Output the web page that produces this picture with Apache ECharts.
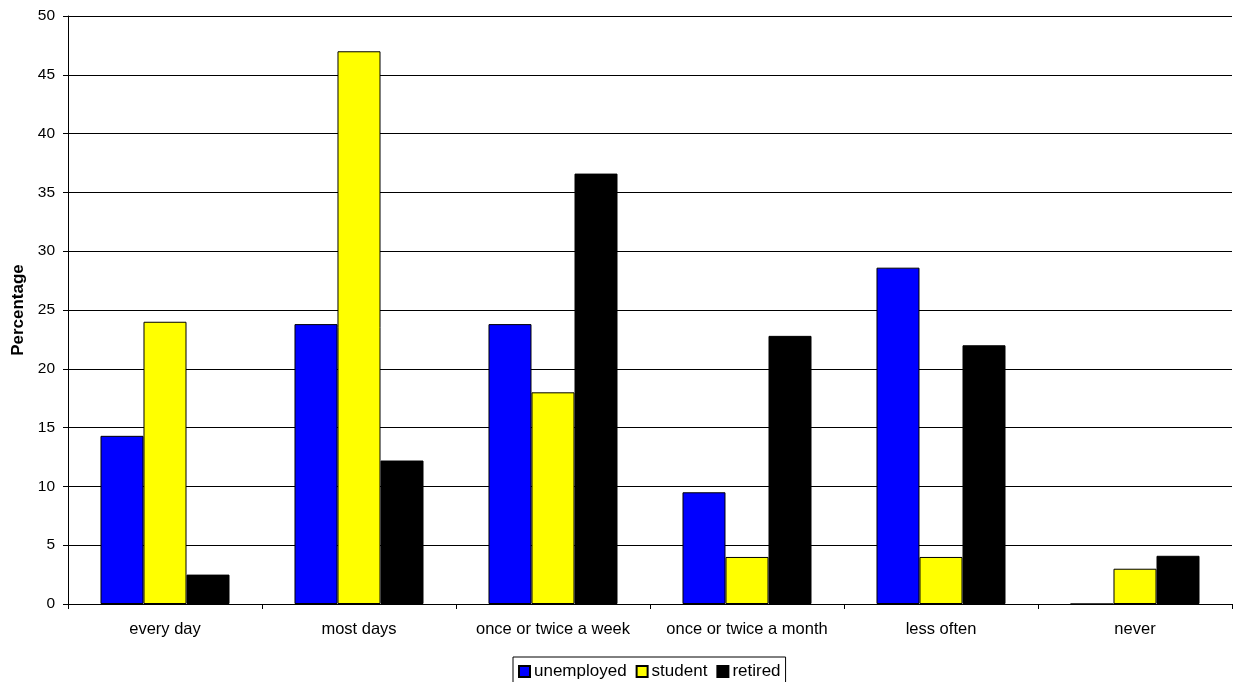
<!DOCTYPE html>
<html>
<head>
<meta charset="utf-8">
<script src="https://cdn.jsdelivr.net/npm/echarts@6/dist/echarts.min.js"></script>
<style>html,body{margin:0;padding:0;background:#fff;}#c{width:1234px;height:682px;}</style>
</head>
<body>
<div id="c"></div>
<script>
const categories = ["every day", "most days", "once or twice a week", "once or twice a month", "less often", "never"];
const unemployed = [14.3, 23.8, 23.8, 9.5, 28.6, 0];
const student = [24.0, 47.0, 18.0, 4.0, 4.0, 3.0];
const retired = [2.5, 12.2, 36.6, 22.8, 22.0, 4.1];
const yTicks = [0, 5, 10, 15, 20, 25, 30, 35, 40, 45, 50];

const font = 'Liberation Sans, Arial, sans-serif';
const chart = echarts.init(document.getElementById('c'), null, {renderer: 'canvas'});
function bar(name, data, color) {
  return {
    name: name, type: 'bar', data: data,
    barGap: '0%', barCategoryGap: '33.5%',
    itemStyle: {color: color, borderColor: '#000', borderWidth: 1},
    emphasis: {disabled: true}
  };
}
chart.setOption({
  animation: false,
  backgroundColor: '#fff',
  textStyle: {fontFamily: font, color: '#000'},
  grid: {left: 68, right: 2, top: 16, bottom: 78, containLabel: false},
  legend: {
    left: 513, top: 657,
    itemWidth: 11, itemHeight: 11, itemGap: 9,
    icon: 'rect',
    borderColor: '#000', borderWidth: 1,
    padding: [6, 5, 6, 5],
    textStyle: {fontFamily: font, fontSize: 17, color: '#000', padding: [0, 0, 0, -1]},
    data: ['unemployed', 'student', 'retired']
  },
  xAxis: {
    type: 'category', data: categories,
    axisLine: {lineStyle: {color: '#000', width: 1}},
    axisTick: {show: true, interval: 0, length: 5, lineStyle: {color: '#000'}},
    axisLabel: {interval: 0, hideOverlap: false, fontFamily: font, fontSize: 16.5, color: '#000', margin: 17}
  },
  yAxis: {
    type: 'value', min: yTicks[0], max: yTicks[yTicks.length - 1], interval: 5,
    name: 'Percentage', nameLocation: 'middle', nameRotate: 90, nameGap: 41,
    nameTextStyle: {fontFamily: font, fontSize: 17, fontWeight: 'bold', color: '#000'},
    axisLine: {show: true, lineStyle: {color: '#000', width: 1}},
    axisTick: {show: true, length: 5, lineStyle: {color: '#000'}},
    axisLabel: {fontFamily: font, fontSize: 15.5, color: '#000', margin: 13},
    splitLine: {show: true, lineStyle: {color: '#000', width: 1}}
  },
  series: [
    bar('unemployed', unemployed, '#0000ff'),
    bar('student', student, '#ffff00'),
    bar('retired', retired, '#000000')
  ]
});
</script>
</body>
</html>
